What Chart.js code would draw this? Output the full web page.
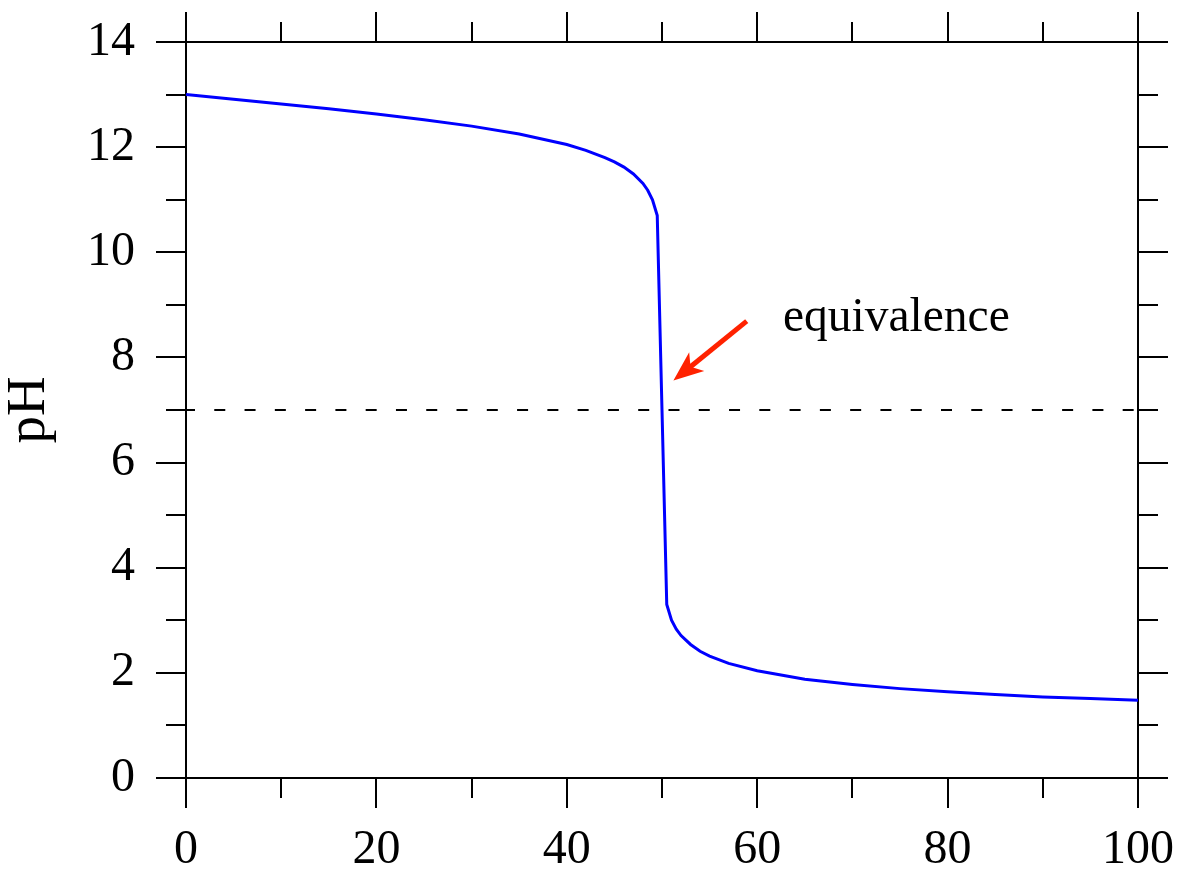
<!DOCTYPE html>
<html>
<head>
<meta charset="utf-8">
<script src="https://cdn.jsdelivr.net/npm/chart.js@4.4.1/dist/chart.umd.min.js"></script>
<style>
  html, body { margin: 0; padding: 0; background: #ffffff; }
  #wrap { width: 1180px; height: 875px; position: relative; }
</style>
</head>
<body>
<div id="wrap"><canvas id="c" width="1180" height="875"></canvas></div>
<script>
// ---- data ----
const volume = [0, 5, 10, 15, 20, 25, 30, 35, 40, 42, 44, 45, 46, 47, 48, 48.5, 49, 49.5, 50, 50.5, 51, 51.5, 52, 53, 54, 55, 57, 60, 65, 70, 75, 80, 85, 90, 95, 100];
const pH     = [13.00, 12.91, 12.82, 12.73, 12.63, 12.52, 12.40, 12.25, 12.05, 11.94, 11.80, 11.72, 11.62, 11.49, 11.31, 11.18, 11.00, 10.70, 7.00, 3.30, 3.00, 2.83, 2.71, 2.54, 2.41, 2.32, 2.18, 2.04, 1.88, 1.78, 1.70, 1.64, 1.59, 1.54, 1.51, 1.48];
const neutralX = [0, 100];
const neutralY = [7, 7];
const xMajorTicks = [0, 20, 40, 60, 80, 100];
const xMinorTicks = [10, 30, 50, 70, 90];
const yMajorTicks = [0, 2, 4, 6, 8, 10, 12, 14];
const yMinorTicks = [1, 3, 5, 7, 9, 11, 13];
const annotationText = 'equivalence';
const yTitle = 'pH';

// ---- annotation placement (data units) ----
const annot = {
  arrowFrom: { x: 58.9, y: 8.69 },
  arrowTo:   { x: 51.2, y: 7.56 },
  text:      { x: 62.7, y: 8.50 }
};

const FONT = "'Liberation Serif', 'Times New Roman', serif";
const FS = 48;

const minorTickPlugin = {
  id: 'minorTicks',
  afterDraw(chart) {
    const { ctx, chartArea: a, scales } = chart;
    const xs = scales.x, ys = scales.y;
    const len = 20;
    ctx.save();
    ctx.strokeStyle = '#000';
    ctx.lineWidth = 2;
    ctx.beginPath();
    xMinorTicks.forEach(v => {
      const px = Math.round(xs.getPixelForValue(v));
      ctx.moveTo(px, a.bottom); ctx.lineTo(px, a.bottom + len);
      ctx.moveTo(px, a.top); ctx.lineTo(px, a.top - len);
    });
    yMinorTicks.forEach(v => {
      const py = Math.round(ys.getPixelForValue(v));
      ctx.moveTo(a.left, py); ctx.lineTo(a.left - len, py);
      ctx.moveTo(a.right, py); ctx.lineTo(a.right + len, py);
    });
    ctx.stroke();
    ctx.restore();
  }
};

const annotationPlugin = {
  id: 'annot',
  afterDatasetsDraw(chart) {
    const { ctx, scales } = chart;
    const xs = scales.x, ys = scales.y;
    const x1 = xs.getPixelForValue(annot.arrowFrom.x), y1 = ys.getPixelForValue(annot.arrowFrom.y);
    const x2 = xs.getPixelForValue(annot.arrowTo.x),   y2 = ys.getPixelForValue(annot.arrowTo.y);
    const dx = x2 - x1, dy = y2 - y1, L = Math.hypot(dx, dy);
    const ux = dx / L, uy = dy / L, nx = -uy, ny = ux;
    const headLen = 30, headW = 12, notch = 22;
    ctx.save();
    ctx.strokeStyle = '#ff2200';
    ctx.fillStyle = '#ff2200';
    ctx.lineWidth = 5;
    ctx.beginPath();
    ctx.moveTo(x1, y1);
    ctx.lineTo(x2 - ux * (notch - 2), y2 - uy * (notch - 2));
    ctx.stroke();
    ctx.beginPath();
    ctx.moveTo(x2, y2);
    ctx.lineTo(x2 - ux * headLen + nx * headW, y2 - uy * headLen + ny * headW);
    ctx.lineTo(x2 - ux * notch, y2 - uy * notch);
    ctx.lineTo(x2 - ux * headLen - nx * headW, y2 - uy * headLen - ny * headW);
    ctx.closePath();
    ctx.fill();
    ctx.fillStyle = '#000';
    ctx.font = '47.5px ' + FONT;
    ctx.textAlign = 'left';
    ctx.textBaseline = 'alphabetic';
    ctx.fillText(annotationText, xs.getPixelForValue(annot.text.x), ys.getPixelForValue(annot.text.y));
    ctx.restore();
  }
};

function axisGrid() {
  return {
    drawOnChartArea: false,
    drawTicks: true,
    tickLength: 30,
    lineWidth: 2,
    tickWidth: 2,
    tickColor: '#000',
    color: '#000'
  };
}
function border() { return { display: true, color: '#000', width: 2 }; }
function noPad(s) { s.paddingLeft = 0; s.paddingRight = 0; s.paddingTop = 0; s.paddingBottom = 0; }

new Chart(document.getElementById('c'), {
  type: 'line',
  data: {
    datasets: [
      {
        data: volume.map((v, i) => ({ x: v, y: pH[i] })),
        borderColor: '#0000ff',
        borderWidth: 3,
        pointRadius: 0,
        tension: 0,
        fill: false
      },
      {
        data: neutralX.map((v, i) => ({ x: v, y: neutralY[i] })),
        borderColor: '#000',
        borderWidth: 2,
        borderDash: [11, 19.28],
        borderDashOffset: 2,
        pointRadius: 0,
        fill: false
      }
    ]
  },
  options: {
    responsive: true,
    maintainAspectRatio: false,
    devicePixelRatio: 1,
    animation: false,
    events: [],
    layout: { padding: 0 },
    plugins: { legend: { display: false }, tooltip: { enabled: false } },
    scales: {
      x: {
        type: 'linear', position: 'bottom', min: 0, max: 100,
        afterBuildTicks: s => { s.ticks = xMajorTicks.map(v => ({ value: v })); },
        ticks: { color: '#000', font: { family: FONT, size: FS }, padding: 14, maxRotation: 0, autoSkip: false },
        grid: axisGrid(), border: border(),
        afterFit: s => { s.height = 97; noPad(s); }
      },
      y: {
        type: 'linear', position: 'left', min: 0, max: 14,
        afterBuildTicks: s => { s.ticks = yMajorTicks.map(v => ({ value: v })); },
        ticks: { color: '#000', font: { family: FONT, size: FS }, padding: 21, autoSkip: false },
        title: { display: true, text: yTitle, color: '#000', font: { family: FONT, size: 55, lineHeight: 1 }, padding: { top: 2, bottom: 0 } },
        grid: axisGrid(), border: border(),
        afterFit: s => { s.width = 186; noPad(s); }
      },
      x2: {
        type: 'linear', position: 'top', min: 0, max: 100,
        afterBuildTicks: s => { s.ticks = xMajorTicks.map(v => ({ value: v })); },
        ticks: { display: false },
        grid: axisGrid(), border: border(),
        afterFit: s => { s.height = 42; noPad(s); }
      },
      y2: {
        type: 'linear', position: 'right', min: 0, max: 14,
        afterBuildTicks: s => { s.ticks = yMajorTicks.map(v => ({ value: v })); },
        ticks: { display: false },
        grid: axisGrid(), border: border(),
        afterFit: s => { s.width = 42; noPad(s); }
      }
    }
  },
  plugins: [minorTickPlugin, annotationPlugin]
});
</script>
</body>
</html>
